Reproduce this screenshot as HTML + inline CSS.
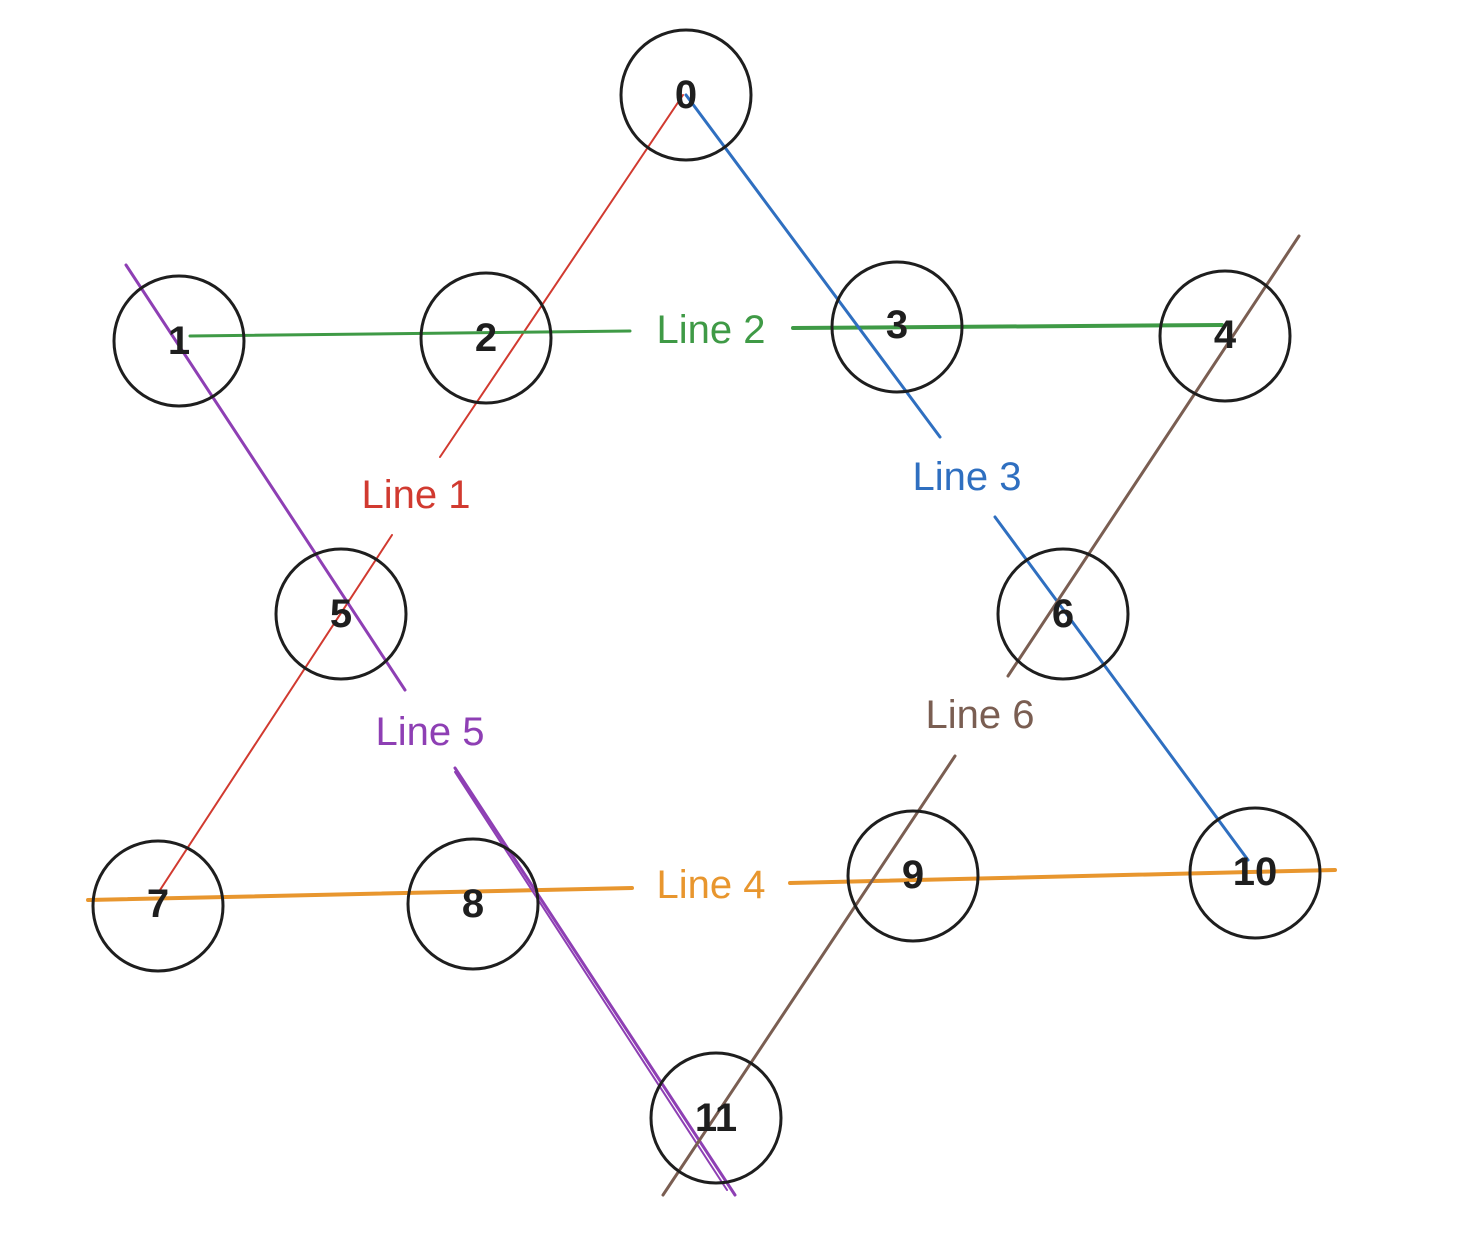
<!DOCTYPE html>
<html><head><meta charset="utf-8"><style>
html,body{margin:0;padding:0;background:#fff;}
svg{display:block;}
text{font-family:"Liberation Sans",sans-serif;}
</style></head><body>
<svg width="1466" height="1242" viewBox="0 0 1466 1242" xmlns="http://www.w3.org/2000/svg">
<g fill="none" stroke-width="3" stroke-linecap="round">
<!-- Line 1 red -->
<line x1="683" y1="95" x2="440" y2="457" stroke="#d13a30" stroke-width="2"/>
<line x1="392" y1="535" x2="160" y2="890" stroke="#d13a30" stroke-width="2"/>
<!-- Line 2 green -->
<line x1="190" y1="336" x2="630" y2="331" stroke="#3f9a46"/>
<line x1="793" y1="328" x2="1222" y2="325" stroke="#3f9a46" stroke-width="4"/>
<!-- Line 3 blue -->
<line x1="686" y1="95" x2="940" y2="437" stroke="#2f6fc0"/>
<line x1="995" y1="517" x2="1248" y2="860" stroke="#2f6fc0"/>
<!-- Line 4 orange -->
<line x1="88" y1="900" x2="632" y2="888" stroke="#e8962e" stroke-width="4"/>
<line x1="790" y1="883" x2="1335" y2="870" stroke="#e8962e" stroke-width="4"/>
<!-- Line 5 purple -->
<line x1="126" y1="265" x2="405" y2="690" stroke="#8e3fb4"/>
<line x1="455" y1="768" x2="735" y2="1195" stroke="#8e3fb4"/>
<line x1="455" y1="772" x2="727" y2="1190" stroke="#8e3fb4" stroke-width="2"/>
<!-- Line 6 brown -->
<line x1="1299" y1="236" x2="1008" y2="676" stroke="#7a5e52"/>
<line x1="955" y1="756" x2="663" y2="1195" stroke="#7a5e52"/>
</g>
<g fill="none" stroke="#1e1e1e" stroke-width="3">
<circle cx="686" cy="95" r="65"/>
<circle cx="179" cy="341" r="65"/>
<circle cx="486" cy="338" r="65"/>
<circle cx="897" cy="327" r="65"/>
<circle cx="1225" cy="336" r="65"/>
<circle cx="341" cy="614" r="65"/>
<circle cx="1063" cy="614" r="65"/>
<circle cx="158" cy="906" r="65"/>
<circle cx="473" cy="904" r="65"/>
<circle cx="913" cy="876" r="65"/>
<circle cx="1255" cy="873" r="65"/>
<circle cx="716" cy="1118" r="65"/>
</g>
<g font-size="40" fill="#1e1e1e" text-anchor="middle" font-weight="bold">
<text x="686" y="108">0</text>
<text x="179" y="354">1</text>
<text x="486" y="351">2</text>
<text x="897" y="338">3</text>
<text x="1225" y="348">4</text>
<text x="341" y="627">5</text>
<text x="1063" y="627">6</text>
<text x="158" y="917">7</text>
<text x="473" y="917">8</text>
<text x="913" y="888">9</text>
<text x="1255" y="885">10</text>
<text x="716" y="1131">11</text>
</g>
<g font-size="40" text-anchor="middle">
<text x="416" y="508" fill="#d13a30">Line 1</text>
<text x="711" y="343" fill="#3f9a46">Line 2</text>
<text x="967" y="490" fill="#2f6fc0">Line 3</text>
<text x="711" y="898" fill="#e8962e">Line 4</text>
<text x="430" y="745" fill="#8e3fb4">Line 5</text>
<text x="980" y="728" fill="#7a5e52">Line 6</text>
</g>
</svg>
</body></html>
